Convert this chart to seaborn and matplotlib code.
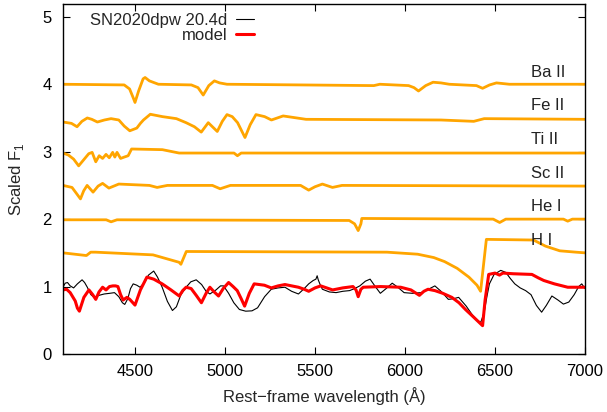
import matplotlib
matplotlib.use("Agg")
import matplotlib.pyplot as plt
import seaborn as sns

# ---------------- data ----------------
obs_wl = [4100, 4112, 4125, 4140, 4159, 4180, 4206, 4220, 4235, 4255, 4273, 4300,
          4329, 4360, 4386, 4410, 4430, 4443, 4460, 4475, 4490, 4510, 4528, 4550,
          4575, 4604, 4625, 4651, 4680, 4708, 4730, 4755, 4784, 4810, 4840, 4870,
          4895, 4916, 4950, 4975, 4992, 5020, 5049, 5080, 5115, 5150, 5181, 5220,
          5257, 5295, 5333, 5370, 5408, 5440, 5465, 5490, 5505, 5512, 5518, 5530,
          5541, 5580, 5617, 5655, 5692, 5720, 5749, 5780, 5806, 5835, 5863, 5895,
          5929, 5960, 5995, 6040, 6090, 6130, 6166, 6200, 6241, 6270, 6298, 6340,
          6374, 6400, 6421, 6440, 6455, 6469, 6495, 6532, 6560, 6585, 6610, 6640,
          6670, 6700, 6730, 6759, 6785, 6816, 6850, 6880, 6910, 6940, 6965, 6982,
          7000]
obs_fl = [0.99, 1.05, 1.06, 1.01, 0.98, 1.04, 1.10, 1.06, 0.99, 0.88, 0.84, 0.87,
          0.89, 0.90, 0.91, 0.85, 0.76, 0.735, 0.82, 0.97, 1.04, 1.02, 0.99, 1.05,
          1.17, 1.23, 1.14, 0.99, 0.78, 0.645, 0.70, 0.88, 0.99, 1.07, 1.10, 1.03,
          0.93, 0.89, 0.95, 1.01, 1.01, 0.90, 0.76, 0.66, 0.635, 0.64, 0.685, 0.85,
          0.96, 0.98, 0.99, 0.93, 0.89, 0.97, 1.04, 1.09, 1.11, 1.16, 1.10, 1.02,
          0.96, 0.92, 0.91, 0.93, 0.94, 0.97, 1.01, 1.08, 1.11, 1.00, 0.90, 0.97,
          1.05, 0.99, 0.91, 0.90, 0.91, 0.96, 1.01, 0.93, 0.81, 0.82, 0.84, 0.71,
          0.58, 0.50, 0.47, 0.62, 0.85, 1.04, 1.18, 1.24, 1.21, 1.12, 1.04, 0.98,
          0.94, 0.88, 0.72, 0.62, 0.72, 0.86, 0.80, 0.74, 0.77, 0.88, 1.00, 1.04,
          0.97]

mod_wl = [4100, 4120, 4140, 4168, 4180, 4191, 4205, 4216, 4244, 4265, 4282, 4300,
          4320, 4339, 4358, 4377, 4392, 4405, 4420, 4434, 4455, 4471, 4500, 4530,
          4566, 4604, 4651, 4700, 4746, 4765, 4784, 4812, 4840, 4869, 4895, 4916,
          4940, 4964, 4990, 5020, 5045, 5068, 5090, 5109, 5135, 5162, 5219, 5257,
          5295, 5333, 5408, 5440, 5465, 5500, 5532, 5565, 5598, 5654, 5711, 5728,
          5740, 5755, 5768, 5863, 5976, 6033, 6080, 6105, 6128, 6166, 6210, 6260,
          6300, 6336, 6380, 6431, 6445, 6465, 6500, 6525, 6544, 6601, 6705, 6740,
          6771, 6830, 6904, 7000]
mod_fl = [0.95, 0.96, 0.91, 0.786, 0.68, 0.635, 0.75, 0.84, 0.95, 0.88, 0.81, 0.92,
          0.99, 0.95, 1.00, 1.01, 1.01, 1.00, 0.88, 0.80, 0.84, 0.81, 0.725, 0.95,
          1.14, 1.11, 1.04, 0.95, 0.86, 0.94, 0.99, 0.97, 0.87, 0.76, 0.90, 0.99,
          0.92, 0.86, 0.97, 1.06, 1.00, 0.94, 0.82, 0.71, 0.90, 1.04, 1.02, 0.98,
          1.01, 1.03, 0.99, 0.96, 0.93, 0.98, 1.01, 0.98, 0.95, 0.98, 1.00, 0.95,
          0.85, 0.96, 0.99, 1.00, 0.99, 0.95, 0.87, 0.93, 0.96, 0.94, 0.90, 0.84,
          0.76, 0.66, 0.55, 0.42, 0.80, 1.18, 1.20, 1.17, 1.20, 1.19, 1.18, 1.13,
          1.09, 1.04, 0.99, 0.99]

ba_wl = [4100, 4440, 4470, 4490, 4500, 4520, 4545, 4556, 4580, 4630, 4813, 4850,
         4879, 4910, 4941, 4970, 5011, 5827, 5860, 6020, 6050, 6075, 6115, 6156,
         6200, 6246, 6397, 6431, 6470, 6508, 6580, 7000]
ba_fl = [4.00, 3.99, 3.93, 3.80, 3.73, 3.90, 4.08, 4.10, 4.05, 4.00, 3.99, 3.95,
         3.84, 3.98, 4.05, 4.02, 4.00, 3.98, 4.00, 3.98, 3.95, 3.90, 3.98, 4.03,
         4.02, 4.00, 3.98, 3.94, 3.99, 4.02, 4.00, 4.00]

fe_wl = [4100, 4147, 4178, 4205, 4235, 4260, 4291, 4330, 4367, 4410, 4440, 4471,
         4510, 4530, 4547, 4585, 4652, 4730, 4784, 4830, 4868, 4907, 4957, 4985,
         5011, 5040, 5070, 5111, 5140, 5172, 5220, 5258, 5323, 5450, 6200, 6382,
         6440, 7000]
fe_fl = [3.44, 3.42, 3.37, 3.45, 3.50, 3.48, 3.44, 3.47, 3.49, 3.47, 3.38, 3.31,
         3.35, 3.42, 3.47, 3.555, 3.52, 3.49, 3.43, 3.37, 3.29, 3.43, 3.30, 3.45,
         3.55, 3.52, 3.43, 3.21, 3.40, 3.55, 3.52, 3.47, 3.53, 3.48, 3.47, 3.45,
         3.49, 3.48]

ti_wl = [4100, 4130, 4159, 4187, 4215, 4243, 4262, 4282, 4301, 4320, 4339, 4357,
         4376, 4388, 4400, 4420, 4440, 4462, 4481, 4652, 4745, 5050, 5069, 5090,
         7000]
ti_fl = [2.98, 2.95, 2.89, 2.79, 2.88, 2.97, 2.99, 2.85, 2.94, 2.90, 2.96, 2.91,
         2.99, 2.92, 2.99, 2.90, 2.92, 2.94, 3.04, 3.03, 2.98, 2.98, 2.94, 2.98,
         2.98]

sc_wl = [4100, 4150, 4175, 4197, 4215, 4234, 4267, 4295, 4320, 4355, 4410, 4580,
         4623, 4680, 4930, 4973, 5030, 5420, 5465, 5500, 5541, 5597, 5650, 7000]
sc_fl = [2.50, 2.47, 2.38, 2.30, 2.42, 2.50, 2.40, 2.49, 2.53, 2.46, 2.52, 2.50,
         2.47, 2.50, 2.50, 2.45, 2.50, 2.50, 2.43, 2.48, 2.52, 2.47, 2.50, 2.49]

he_wl = [4100, 4340, 4367, 4400, 5690, 5720, 5740, 5755, 5760, 6490, 6526, 6560,
         6880, 6904, 6930, 7000]
he_fl = [1.99, 1.99, 1.96, 1.99, 1.98, 1.93, 1.83, 1.93, 2.01, 2.00, 1.95, 2.00,
         2.00, 1.97, 2.00, 2.00]

h_wl = [4100, 4230, 4254, 4280, 4600, 4745, 4755, 4785, 5900, 6070, 6160, 6220,
        6290, 6355, 6400, 6420, 6452, 6714, 6780, 6860, 6950, 7000]
h_fl = [1.50, 1.46, 1.51, 1.51, 1.47, 1.36, 1.33, 1.52, 1.51, 1.48, 1.43, 1.37,
        1.27, 1.14, 1.02, 0.93, 1.70, 1.69, 1.60, 1.53, 1.51, 1.50]

ion_names = ["Ba II", "Fe II", "Ti II", "Sc II", "He I", "H I"]
ion_levels = [4.0, 3.5, 3.0, 2.5, 2.0, 1.5]
ion_wl = [ba_wl, fe_wl, ti_wl, sc_wl, he_wl, h_wl]
ion_fl = [ba_fl, fe_fl, ti_fl, sc_fl, he_fl, h_fl]

x_ticks = [4500, 5000, 5500, 6000, 6500, 7000]
y_ticks = [0, 1, 2, 3, 4, 5]

# ---------------- style ----------------
sns.set_theme(style="ticks")
plt.rcParams["font.family"] = ["Liberation Sans", "DejaVu Sans"]
plt.rcParams["mathtext.fontset"] = "custom"
plt.rcParams["mathtext.rm"] = "Liberation Sans"

fig = plt.figure(figsize=(6.07, 4.12), dpi=100)
ax = fig.add_axes([63 / 607, 1 - 354 / 412, 522 / 607, 350 / 412])

orange = "#FFA500"
for wl, fl in zip(ion_wl, ion_fl):
    sns.lineplot(x=wl, y=fl, ax=ax, color=orange, lw=2.0, sort=False,
                 estimator=None, legend=False)

sns.lineplot(x=obs_wl, y=obs_fl, ax=ax, color="black", lw=0.8, sort=False,
             estimator=None, label="SN2020dpw 20.4d")
sns.lineplot(x=mod_wl, y=mod_fl, ax=ax, color="#FF0000", lw=2.2, sort=False,
             estimator=None, label="model")

for name, lev in zip(ion_names, ion_levels):
    ax.text(6700, lev + 0.18, name, fontsize=12, ha="left", va="center",
            color="#222222")

ax.set_xlim(4100, 7000)
ax.set_ylim(0, 5.19)
ax.set_xticks(x_ticks)
ax.set_yticks(y_ticks)
ax.tick_params(direction="in", length=5, width=0.8, top=True, right=True,
               labelsize=12, colors="black")
ax.tick_params(axis="x", pad=7)
ax.tick_params(axis="y", pad=8)
for sp in ax.spines.values():
    sp.set_linewidth(1.0)
    sp.set_color("black")
    sp.set_visible(True)

ax.set_xlabel("Rest\u2212frame wavelength (\u00c5)", fontsize=12, labelpad=6)
ax.set_ylabel("Scaled F$_{\\mathregular{1}}$", fontsize=12, labelpad=12)

leg = ax.legend(loc="upper right", bbox_to_anchor=(0.366, 0.974),
                frameon=False, markerfirst=False, fontsize=12,
                handlelength=1.1, handletextpad=0.5, labelspacing=0.0,
                borderpad=0, borderaxespad=0)

fig.savefig("out.png", dpi=100)
